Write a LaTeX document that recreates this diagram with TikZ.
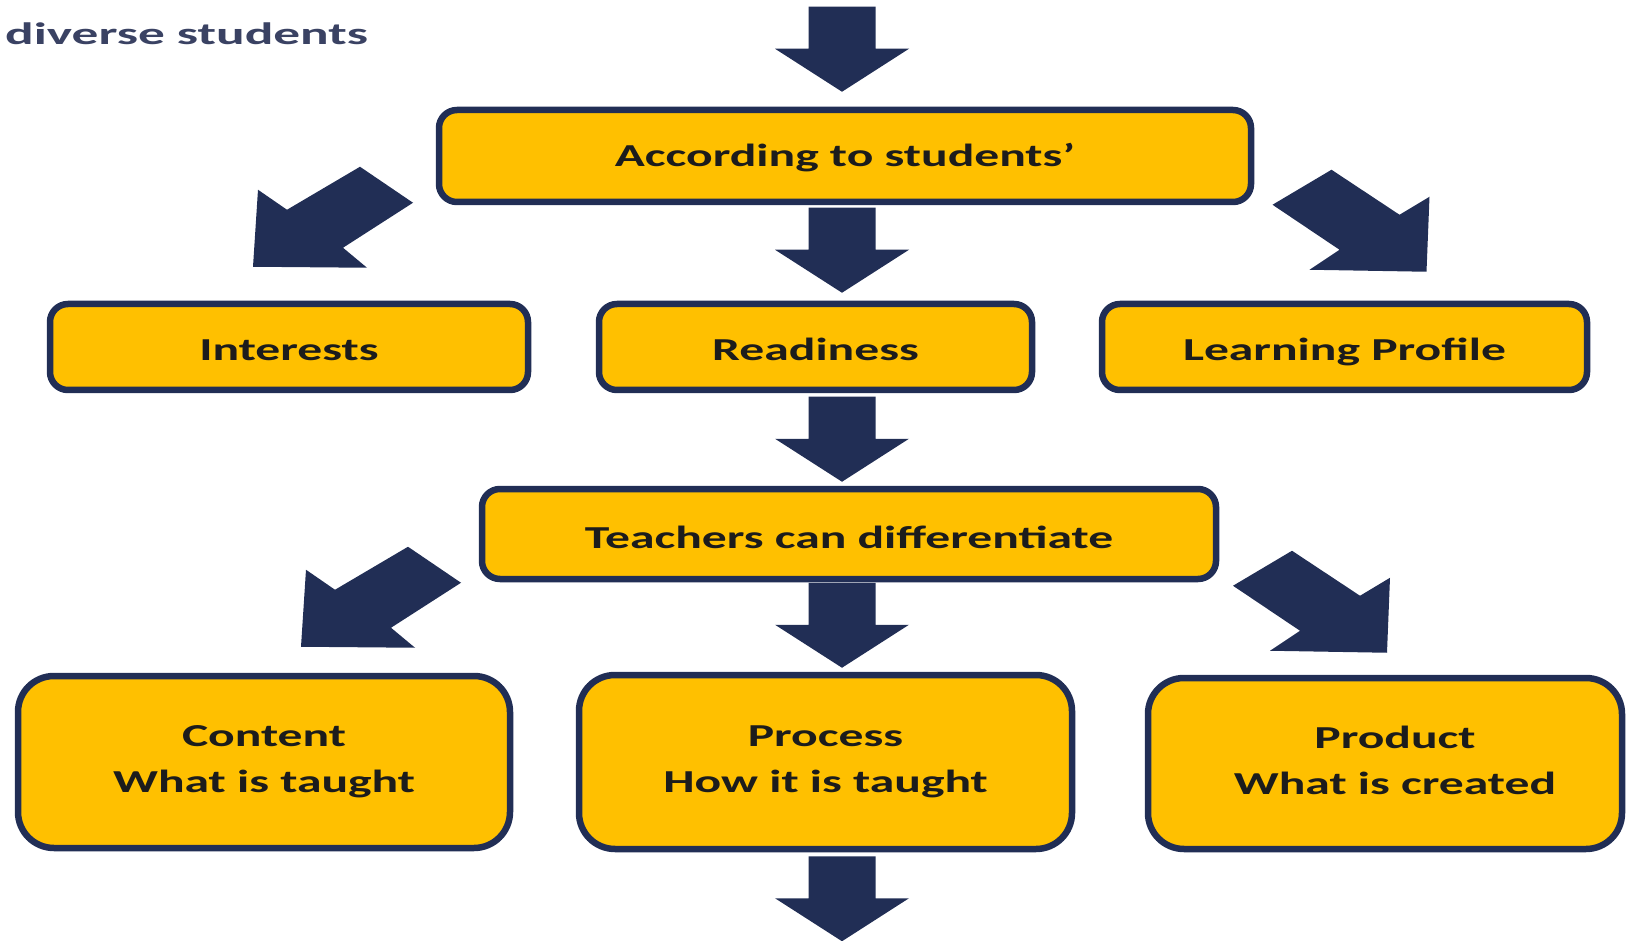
\documentclass[tikz,border=0pt]{standalone}
\usepackage{fontspec}
\usetikzlibrary{calc}

% Stretched Carlito Bold for the box labels and the heading
\newfontfamily\boxfont{Carlito Bold}[FakeStretch=1.55]
\newfontfamily\headfont{Carlito Bold}[FakeStretch=1.72]

\definecolor{gold}{HTML}{FFC000}
\definecolor{navy}{HTML}{212E55}
\definecolor{ink}{HTML}{1C1C1C}
\definecolor{headgray}{HTML}{3A4263}

\tikzset{
  labeltext/.style={text=ink, align=center, font=\boxfont\fontsize{32}{46}\selectfont},
  box/.style={labeltext, draw=navy, line width=6.5pt, fill=gold, rounded corners=18pt,
    inner sep=0pt},
  onebox/.style={box, text height=29pt, text depth=1pt},
  bigbox/.style={box, rounded corners=36pt},
  % block arrow pointing straight down, tip at the origin
  downarrow/.pic={\fill[navy] (-33.5,-85) -- (33.5,-85) -- (33.5,-43) -- (67,-43)
    -- (0,0) -- (-67,-43) -- (-33.5,-43) -- cycle;},
  % block arrow pointing down and to the left, tip at the origin
  leftarrow/.pic={\fill[navy] (0,0) -- (5,-77) -- (34,-57) -- (107,-100)
    -- (160,-64) -- (90,-19) -- (114,1) -- cycle;},
  % block arrow pointing down and to the right, tip at the origin
  rightarrow/.pic={\fill[navy] (0,0) -- (3,-75) -- (-27,-57) -- (-95,-102)
    -- (-154,-67) -- (-87,-22) -- (-117,-2) -- cycle;}
}

\begin{document}
\begin{tikzpicture}[x=1pt,y=-1pt]
\useasboundingbox (0,0) rectangle (1626,941);

% heading
\node[anchor=base west, inner sep=0pt, text=headgray,
      font=\headfont\fontsize{31}{31}\selectfont] (head) at (5,45) {diverse students};

% boxes
\node[onebox, text height=26pt, text depth=4pt, minimum width=812pt, minimum height=92pt]
  (acc) at (845,156) {According to students’};

\node[onebox, minimum width=478pt, minimum height=86pt] (int) at (289,347) {Interests};
\node[onebox, minimum width=433pt, minimum height=86pt] (rea) at (815.5,347) {Readiness};
\node[onebox, minimum width=485pt, minimum height=86pt] (lp)  at (1344.5,347) {Learning Profile};

\node[onebox, minimum width=734pt, minimum height=90pt] (tea) at (849,534) {Teachers can differentiate};

\node[bigbox, minimum width=492pt, minimum height=172pt] (con) at (264,762) {Content\\What is taught};
\node[bigbox, minimum width=493pt, minimum height=174pt] (pro) at (825.5,762) {Process\\How it is taught};
\node[bigbox, minimum width=474pt, minimum height=171pt] (prd) at (1385,763.5) {};
\node[labeltext, inner sep=0pt] (prdtext) at ($(prd.center)+(10,-3)$) {Product\\What is created};

% straight down arrows
\pic at ($(acc.north)+(-3,-15)$) {downarrow};
\pic at ($(acc.south |- rea.north)+(-3,-8)$) {downarrow};
\pic at ($(acc.south |- tea.north)+(-3,-4)$) {downarrow};
\pic at ($(acc.south |- pro.north)+(-3,-4)$) {downarrow};
\pic at ($(acc.south |- pro.south)+(-3,89)$) {downarrow};

% slanted arrows
\pic at ($(int.north)+(-36,-34)$) {leftarrow};
\pic at ($(lp.north)+(82,-29)$) {rightarrow};
\pic at ($(con.north)+(37,-26)$) {leftarrow};
\pic at ($(prd.north)+(2,-22)$) {rightarrow};
\end{tikzpicture}
\end{document}
